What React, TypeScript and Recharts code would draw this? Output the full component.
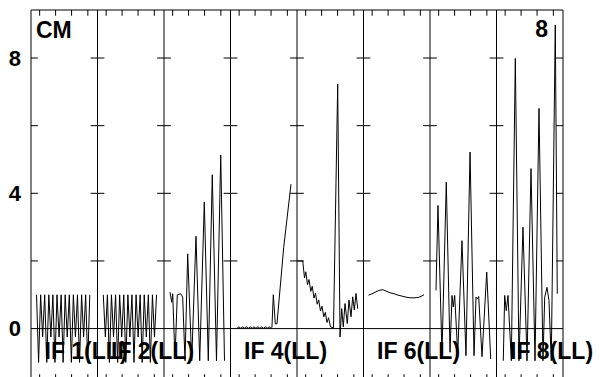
import React from "react"
import { LineChart, Line, XAxis, YAxis, ReferenceLine } from "recharts"

// panel captions along the bottom (panels 3, 5 and 7 carry none)
const captions = ["IF 1(LL)", "IF 2(LL)", "", "IF 4(LL)", "", "IF 6(LL)", "", "IF 8(LL)"]
const yLabels = [0, 4, 8]
const yMinor = [2, 4, 6, 8]
const xTickFracs = [0.13, 0.37, 0.61, 0.855]

// each point: [position inside its panel (0-100), value]
const panel1: [number, number][] = [
  [8.3, 1.0], [11.4, -1.0], [14.5, 1.0], [17.5, -0.25], [20.6, 1.0], [23.7, -1.0],
  [26.8, 1.0], [29.9, -0.25], [32.9, 1.0], [36.0, -1.0], [39.1, 1.0], [42.2, -0.25],
  [45.3, 1.0], [48.3, -1.0], [51.4, 1.0], [54.5, -0.25], [57.6, 1.0], [60.7, -1.0],
  [63.7, 1.0], [66.8, -0.25], [69.9, 1.0], [73.0, -1.0], [76.1, 1.0], [79.1, -0.25],
  [82.2, 1.0], [85.3, -1.0], [88.4, 1.0],
]
const panel2: [number, number][] = [
  [8.7, 1.0], [11.8, -0.25], [14.9, 1.0], [17.9, -1.0], [21.0, 1.0], [24.1, -0.25],
  [27.2, 1.0], [30.3, -1.0], [33.3, 1.0], [36.4, -0.25], [39.5, 1.0], [42.6, -1.0],
  [45.7, 1.0], [48.7, -0.25], [51.8, 1.0], [54.9, -1.0], [58.0, 1.0], [61.1, -0.25],
  [64.1, 1.0], [67.2, -1.0], [70.3, 1.0], [73.4, -0.25], [76.5, 1.0], [79.5, -1.0],
  [82.6, 1.0], [85.7, -0.25], [88.8, 1.0],
]
const panel3: [number, number][] = [
  [9.0, 1.08], [11.6, 0.78], [13.1, 1.03], [16.5, -0.9], [20.0, 1.0], [25.1, 1.03],
  [28.1, 0.93], [31.6, -0.95], [35.6, 2.21], [41.7, -0.95], [48.1, 2.73], [53.7, -0.95],
  [60.6, 3.74], [66.6, -0.95], [72.6, 4.55], [78.9, -0.95], [85.3, 5.13], [91.0, -0.95],
]
const panel4: [number, number][] = [
  [9.8, 0.01], [12.6, 0.05], [15.5, 0.01], [18.3, 0.05], [21.2, 0.01], [24.0, 0.05],
  [26.9, 0.01], [29.7, 0.05], [32.6, 0.01], [35.4, 0.05], [38.3, 0.01], [41.1, 0.05],
  [44.0, 0.01], [46.8, 0.05], [49.7, 0.01], [52.5, 0.05], [55.4, 0.01], [58.2, 0.05],
  [61.0, 0.01], [62.3, 0.03], [64.4, 1.0], [67.4, 0.14], [69.9, 0.14], [80.0, 2.4],
  [91.0, 4.27],
]
const panel5: [number, number][] = [
  [0.5, 2.0], [8.6, 2.0], [11.3, 1.5], [13.2, 1.68], [15.8, 1.3], [18.0, 1.45],
  [20.8, 1.1], [22.9, 1.25], [25.6, 0.9], [27.8, 1.05], [30.4, 0.72], [32.6, 0.85],
  [35.3, 0.52], [37.6, 0.66], [40.3, 0.35], [42.6, 0.48], [45.1, 0.18], [47.4, 0.32],
  [50.4, 0.05], [54.9, 0.02], [61.2, 7.23], [64.7, -0.25], [67.2, 0.59], [69.6, 0.05],
  [72.2, 0.74], [75.6, 0.15], [78.2, 0.84], [81.2, 0.35], [83.8, 0.94], [86.2, 0.55],
  [88.7, 1.04], [91.3, 0.59],
]
const panel6: [number, number][] = [
  [7.5, 0.99], [12.8, 1.03], [18.8, 1.09], [23.3, 1.13], [28.9, 1.15], [33.8, 1.11],
  [39.8, 1.06], [45.9, 1.03], [51.9, 0.99], [57.9, 0.96], [63.9, 0.93], [69.9, 0.91],
  [75.9, 0.91], [82.0, 0.92], [86.5, 0.95], [91.0, 1.0],
]
const panel7: [number, number][] = [
  [9.0, 1.13], [12.0, 3.64], [18.0, -0.75], [24.5, 4.33], [30.1, -0.7], [33.1, 0.98],
  [35.0, 0.64], [37.1, 0.98], [41.7, -0.75], [48.1, 2.6], [54.1, -0.8], [60.2, 5.22],
  [66.2, -0.8], [69.2, 0.93], [71.1, 0.88], [73.2, 0.95], [78.2, -0.83], [85.3, 1.67],
  [91.3, -0.9],
]
const panel8: [number, number][] = [
  [10.2, -0.95], [12.3, 0.98], [14.7, 0.53], [17.3, 0.98], [22.3, -0.95], [28.3, 7.99],
  [33.8, -0.95], [39.8, 3.0], [45.9, -0.95], [51.9, 4.73], [57.9, -0.95], [63.9, 6.51],
  [69.9, -0.95], [72.5, 0.93], [75.9, 1.22], [78.9, 0.83], [82.4, -0.95], [88.4, 8.98],
  [91.4, 1.03],
]

const panels = [panel1, panel2, panel3, panel4, panel5, panel6, panel7, panel8]

const Y_MIN = -1.52
const Y_MAX = 9.42
const PLOT_LEFT = 31
const PANEL_W = 66.5
const FONT = "'Liberation Sans', Arial, sans-serif"

export default function App() {
  const series = panels.map((pts, i) => pts.map(([p, v]) => ({ x: i + p / 100, y: v })))
  const n = panels.length
  const xTick = 0.09 // ~6px in panel units
  const yTick = 0.17 // ~6px in value units

  const lines: React.ReactNode[] = []
  // panel dividers
  for (let i = 1; i < n; i++) {
    lines.push(<ReferenceLine key={"v" + i} x={i} stroke="#000" />)
  }
  // small ticks on the value grid
  for (let i = 0; i <= n; i++) {
    yMinor.forEach((v) => {
      const a = i === 0 ? 0 : i - xTick * 1.15
      const b = i === n ? n : i + xTick * 1.15
      lines.push(
        <ReferenceLine key={`yt${i}-${v}`} segment={[{ x: a, y: v }, { x: b, y: v }]} stroke="#000" />
      )
    })
  }
  // top and bottom ticks
  for (let i = 0; i < n; i++) {
    xTickFracs.forEach((f, j) => {
      lines.push(
        <ReferenceLine key={`tt${i}-${j}`} segment={[{ x: i + f, y: Y_MAX }, { x: i + f, y: Y_MAX - yTick }]} stroke="#000" />,
        <ReferenceLine key={`bt${i}-${j}`} segment={[{ x: i + f, y: Y_MIN }, { x: i + f, y: Y_MIN + yTick }]} stroke="#000" />
      )
    })
  }

  return (
    <div style={{ position: "fixed", top: 0, left: 0, width: 600, height: 377, overflow: "hidden", background: "#fff" }}>
      <LineChart width={600} height={390} margin={{ top: 10, right: 37, bottom: 10, left: 0 }}>
        <XAxis type="number" dataKey="x" domain={[0, n]} allowDataOverflow hide />
        <YAxis
          type="number"
          domain={[Y_MIN, Y_MAX]}
          allowDataOverflow
          ticks={yLabels}
          width={PLOT_LEFT}
          tickLine={false}
          axisLine={false}
          tickMargin={4}
          tick={{ fill: "#000", fontSize: 22, fontWeight: "bold", fontFamily: FONT }}
        />
        <ReferenceLine x={0} stroke="#000" />
        <ReferenceLine x={n} stroke="#000" />
        <ReferenceLine y={Y_MAX} stroke="#000" />
        <ReferenceLine y={0} stroke="#000" />
        {lines}
        {series.map((data, i) => (
          <Line
            key={i}
            data={data}
            dataKey="y"
            type="linear"
            stroke="#000"
            strokeWidth={1}
            dot={false}
            activeDot={false}
            isAnimationActive={false}
          />
        ))}
      </LineChart>
      <svg width={600} height={377} style={{ position: "absolute", top: 0, left: 0, pointerEvents: "none" }}>
        <g fontFamily={FONT} fontWeight="bold" fontSize={23} fill="#000">
          <text x={36} y={38}>CM</text>
          <text x={548} y={37} textAnchor="end">8</text>
          {captions.map((c, i) =>
            c ? (
              <text key={i} x={PLOT_LEFT + i * PANEL_W + 13.5} y={359}>
                {c}
              </text>
            ) : null
          )}
        </g>
      </svg>
    </div>
  )
}
